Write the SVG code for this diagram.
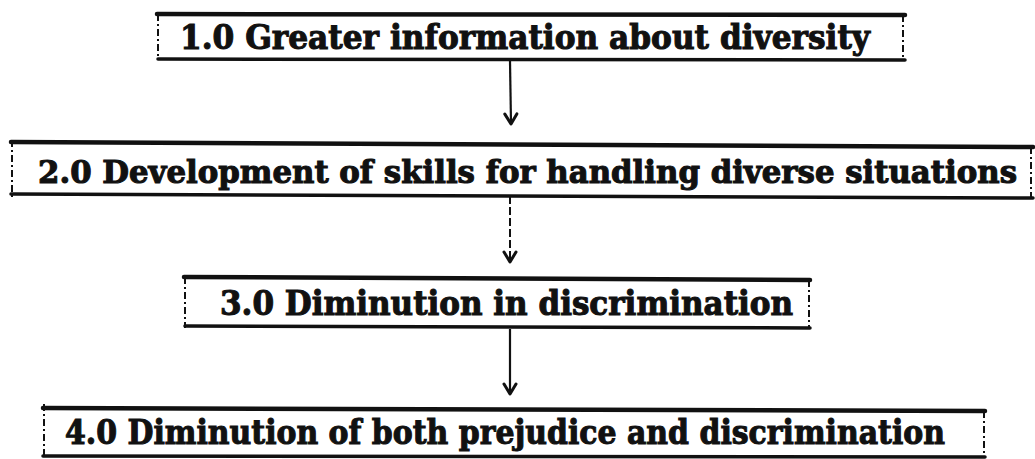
<svg xmlns="http://www.w3.org/2000/svg" width="1035" height="459" viewBox="0 0 1035 459">
<style>
.bg{fill:#ffffff}
.hz{stroke:#111;stroke-width:4.5;stroke-linecap:round;fill:none}
.hb{stroke:#111;stroke-width:3.5;stroke-linecap:round;fill:none}
.vs{stroke:#111;stroke-width:2;stroke-dasharray:7 3 2 3;fill:none}
.lbl{font-family:"DejaVu Serif","Liberation Serif",serif;font-weight:bold;font-size:33px;fill:#111;stroke:#111;stroke-width:1.1}
.sm{font-size:31px}
.cn{stroke:#111;stroke-width:2.2;fill:none}
.cnd{stroke:#111;stroke-width:2;stroke-dasharray:8 3;fill:none}
</style>
<defs>
<marker id="ah" markerUnits="userSpaceOnUse" markerWidth="16" markerHeight="16" refX="13" refY="8" orient="auto" viewBox="0 0 16 16">
<path d="M3,2 L13,8 L3,14" stroke="#111" stroke-width="3" fill="none" stroke-linejoin="round" stroke-linecap="round"/>
</marker>
</defs>
<rect class="bg" x="0" y="0" width="1035" height="459"/>
<g id="node1">
<path class="hz" d="M157,14 L905,15"/>
<path class="hb" d="M158,59 L905,60"/>
<path class="vs" d="M158,14 L158,59"/>
<path class="vs" d="M903,15 L903,60"/>
<text class="lbl" x="180" y="49" textLength="690" lengthAdjust="spacingAndGlyphs">1.0 Greater information about diversity</text>
</g>
<g id="node2">
<path class="hz" d="M11,142 L1033,147"/>
<path class="hb" d="M11,194 L1033,198"/>
<path class="vs" d="M12,140 L12,197"/>
<path class="vs" d="M1031,147 L1031,198"/>
<text class="lbl sm" x="38" y="183" textLength="979" lengthAdjust="spacingAndGlyphs">2.0 Development of skills for handling diverse situations</text>
</g>
<g id="node3">
<path class="hz" d="M184,277 L810,280"/>
<path class="hb" d="M185,326 L810,328"/>
<path class="vs" d="M185,277 L185,328"/>
<path class="vs" d="M809,280 L809,328"/>
<text class="lbl" x="220" y="315" textLength="573" lengthAdjust="spacingAndGlyphs">3.0 Diminution in discrimination</text>
</g>
<g id="node4">
<path class="hz" d="M43,408 L985,411"/>
<path class="hb" d="M43,456 L985,457"/>
<path class="vs" d="M44,404 L44,457"/>
<path class="vs" d="M984,411 L984,457"/>
<text class="lbl" x="65" y="444" textLength="880" lengthAdjust="spacingAndGlyphs">4.0 Diminution of both prejudice and discrimination</text>
</g>
<g id="connectors">
<path class="cn" d="M510,61 L511,124" marker-end="url(#ah)"/>
<path class="cnd" d="M510,196 L510,262" marker-end="url(#ah)"/>
<path class="cn" d="M510,329 L510,394" marker-end="url(#ah)"/>
</g>
</svg>
